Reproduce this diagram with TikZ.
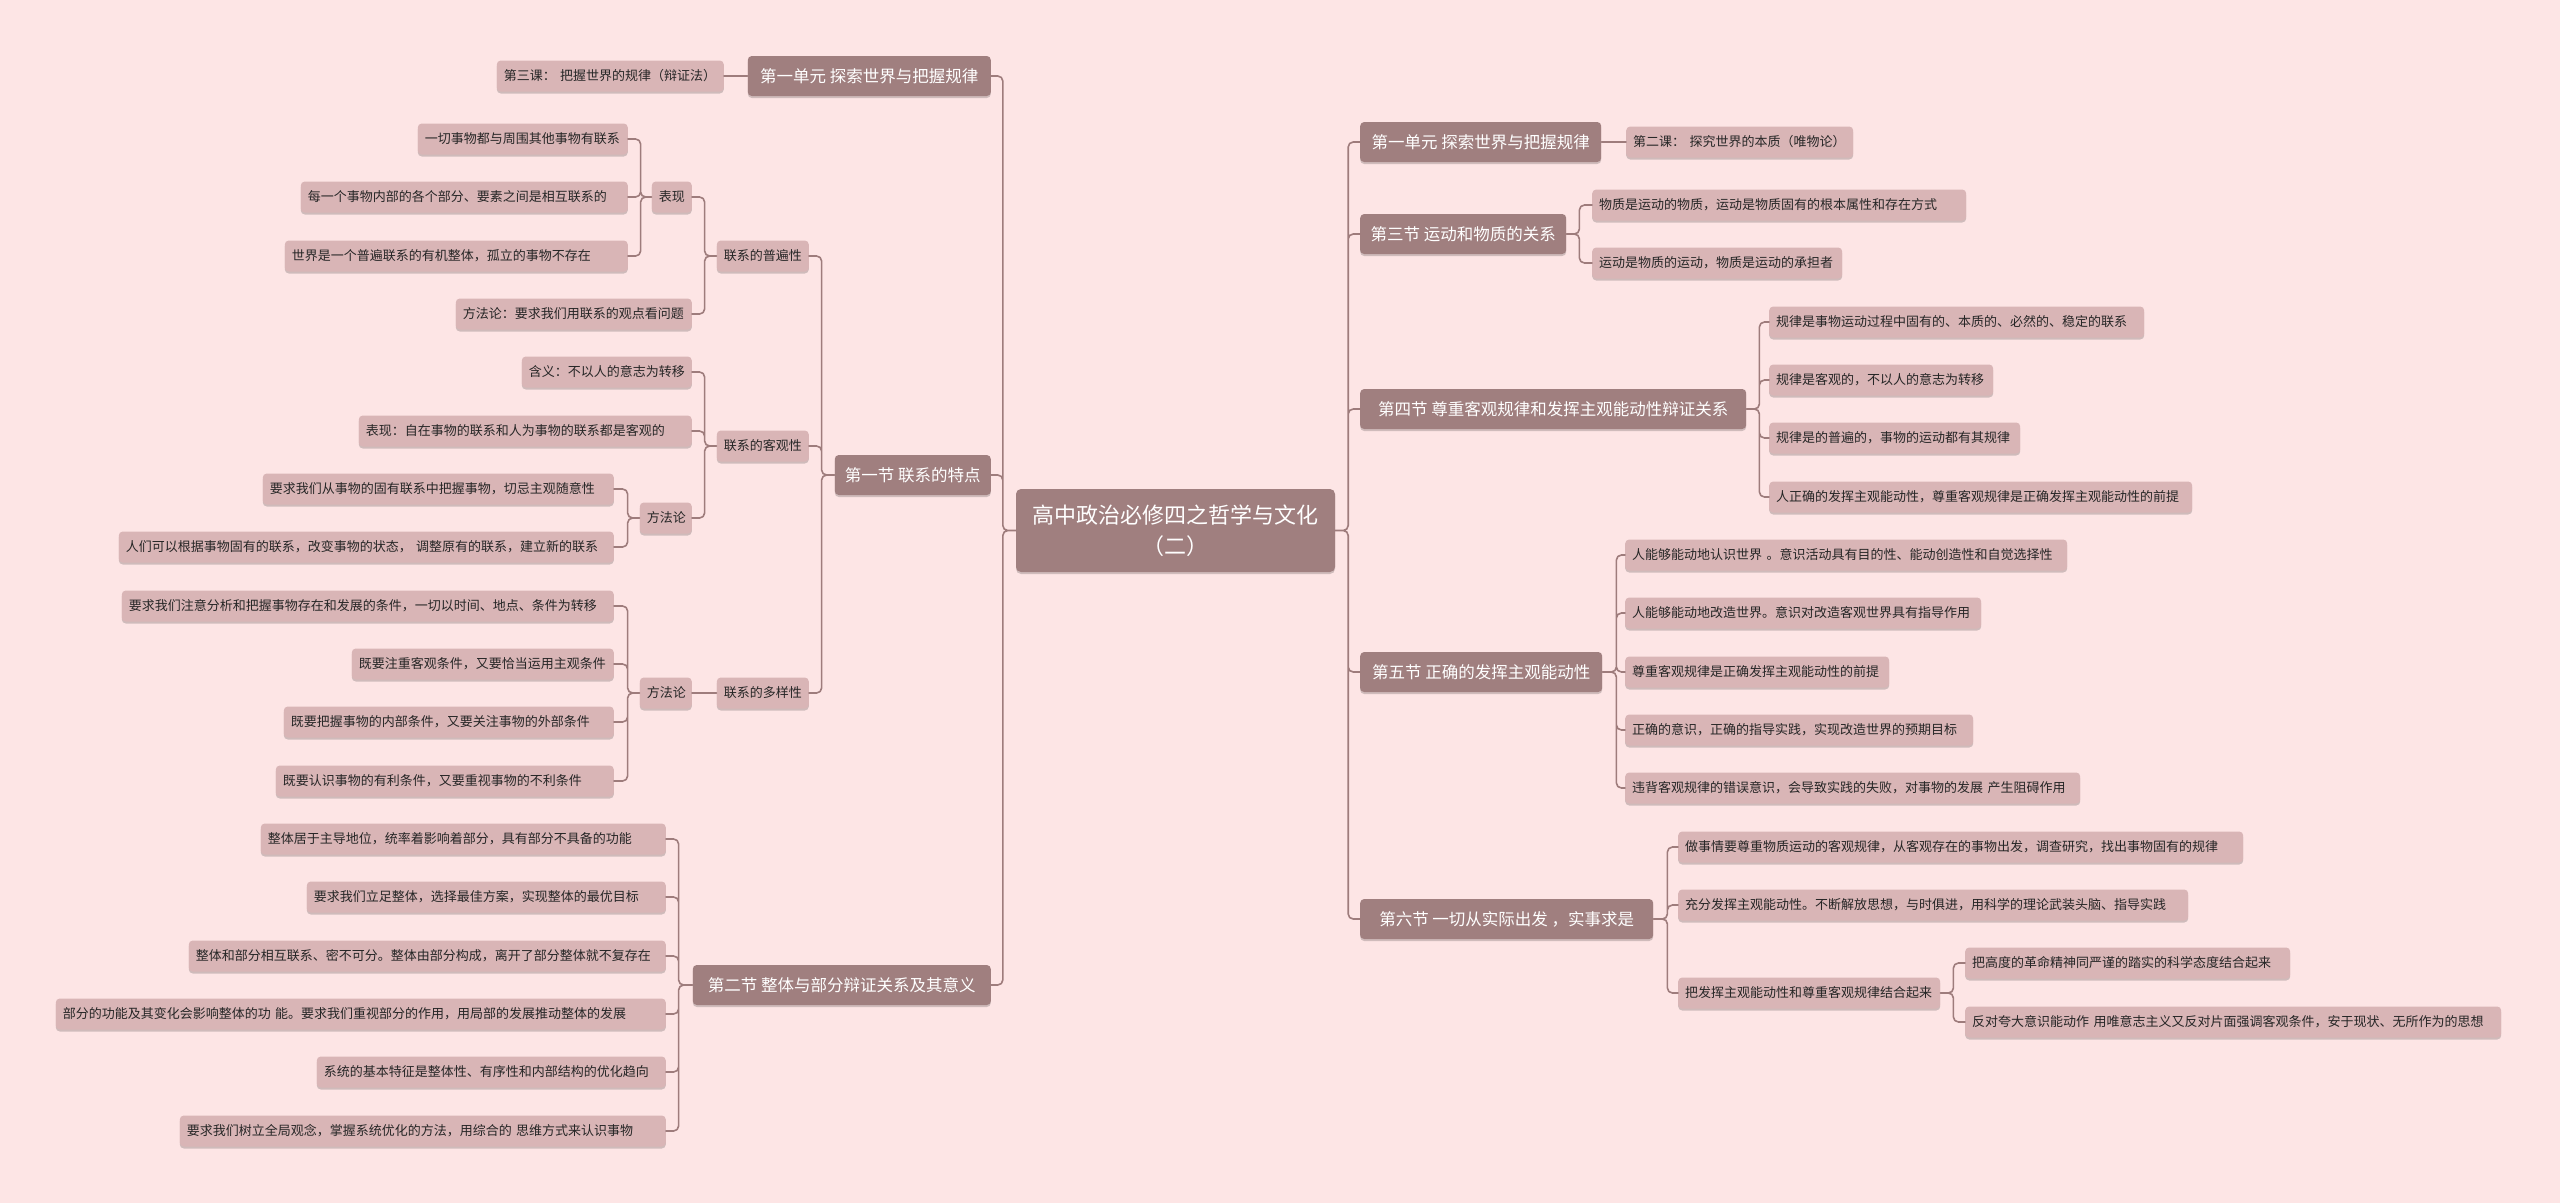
\documentclass[tikz,border=0pt]{standalone}
\usepackage{fontspec}
\setmainfont{Noto Sans CJK SC}
\usetikzlibrary{shadows}
\definecolor{bgc}{HTML}{FDE5E5}
\definecolor{darkc}{HTML}{A07F7F}
\definecolor{lightc}{HTML}{D9B5B6}
\definecolor{linec}{HTML}{9E7C7C}
\definecolor{txtc}{HTML}{262626}
\begin{document}
\begin{tikzpicture}[x=1pt, y=-1pt, line join=round, line cap=round,
	shade/.style={drop shadow={shadow xshift=0pt, shadow yshift=-2pt, opacity=.18, fill=black}},
	rootbox/.style={shade, fill=darkc, text=white, rounded corners=5pt, font=\fontsize{22}{31}\selectfont, align=center, inner sep=0pt, minimum width=319pt, minimum height=83pt},
	secbox/.style={shade, fill=darkc, text=white, rounded corners=4pt, font=\fontsize{16.5}{20}\selectfont, inner xsep=8pt, inner ysep=0pt, minimum height=40pt, minimum width=#1pt},
	leafbase/.style={shade, fill=lightc, text=txtc, rounded corners=4pt, font=\fontsize{13}{16}\selectfont, inner xsep=7pt, inner ysep=0pt, minimum height=31pt, align=left},
	leafbox/.code={\pgfmathsetlengthmacro\leafw{#1pt-14pt}\tikzset{leafbase, text width=\leafw}},
	conn/.style={draw=linec, line width=1.6pt, rounded corners=5pt}]
	\useasboundingbox (0,0) rectangle (2560,1203);
	\fill[bgc] (0,0) rectangle (2560,1203);
	\node[rootbox] (root) at (1175.5,530.5) {高中政治必修四之哲学与文化\\（二）};
	% left
	\node[secbox=243, anchor=east] (u1L) at (991,76) {第一单元 探索世界与把握规律};
	\node[secbox=156, anchor=east] (s1) at (991,475) {第一节 联系的特点};
	\node[secbox=298, anchor=east] (s2) at (991,985) {第二节 整体与部分辩证关系及其意义};
	\node[leafbox=227, anchor=east] (k3) at (724,76) {\mbox{第三课： 把握世界的规律（辩证法）}};
	\node[leafbox=92, anchor=east] (pu) at (809,256) {联系的普遍性};
	\node[leafbox=92, anchor=east] (kg) at (809,446) {联系的客观性};
	\node[leafbox=92, anchor=east] (dy) at (809,693) {联系的多样性};
	\node[leafbox=40, anchor=east] (bx) at (692,197) {表现};
	\node[leafbox=236, anchor=east] (pu2) at (692,314) {方法论：要求我们用联系的观点看问题};
	\node[leafbox=170, anchor=east] (kg1) at (692,372) {含义：不以人的意志为转移};
	\node[leafbox=333, anchor=east] (kg2) at (692,431) {表现：自在事物的联系和人为事物的联系都是客观的};
	\node[leafbox=52, anchor=east] (ff1) at (692,518) {方法论};
	\node[leafbox=52, anchor=east] (ff2) at (692,693) {方法论};
	\node[leafbox=210, anchor=east] (bx1) at (628,139) {一切事物都与周围其他事物有联系};
	\node[leafbox=327, anchor=east] (bx2) at (628,197) {每一个事物内部的各个部分、要素之间是相互联系的};
	\node[leafbox=343, anchor=east] (bx3) at (628,256) {世界是一个普遍联系的有机整体，孤立的事物不存在};
	\node[leafbox=351, anchor=east] (ffa1) at (614,489) {要求我们从事物的固有联系中把握事物，切忌主观随意性};
	\node[leafbox=495, anchor=east] (ffa2) at (614,547) {\mbox{人们可以根据事物固有的联系，改变事物的状态， 调整原有的联系，建立新的联系}};
	\node[leafbox=492, anchor=east] (ffb1) at (614,606) {要求我们注意分析和把握事物存在和发展的条件，一切以时间、地点、条件为转移};
	\node[leafbox=262, anchor=east] (ffb2) at (614,664) {既要注重客观条件，又要恰当运用主观条件};
	\node[leafbox=330, anchor=east] (ffb3) at (614,722) {既要把握事物的内部条件，又要关注事物的外部条件};
	\node[leafbox=338, anchor=east] (ffb4) at (614,781) {既要认识事物的有利条件，又要重视事物的不利条件};
	\node[leafbox=405, anchor=east] (zb1) at (666,839) {整体居于主导地位，统率着影响着部分，具有部分不具备的功能};
	\node[leafbox=359, anchor=east] (zb2) at (666,897) {要求我们立足整体，选择最佳方案，实现整体的最优目标};
	\node[leafbox=477, anchor=east] (zb3) at (666,956) {整体和部分相互联系、密不可分。整体由部分构成，离开了部分整体就不复存在};
	\node[leafbox=610, anchor=east] (zb4) at (666,1014) {\mbox{部分的功能及其变化会影响整体的功 能。要求我们重视部分的作用，用局部的发展推动整体的发展}};
	\node[leafbox=349, anchor=east] (zb5) at (666,1072) {系统的基本特征是整体性、有序性和内部结构的优化趋向};
	\node[leafbox=486, anchor=east] (zb6) at (666,1131) {\mbox{要求我们树立全局观念，掌握系统优化的方法，用综合的 思维方式来认识事物}};
	% right
	\node[secbox=241, anchor=west] (u1R) at (1360,142) {第一单元 探索世界与把握规律};
	\node[secbox=206, anchor=west] (s3) at (1360,234) {第三节 运动和物质的关系};
	\node[secbox=386, anchor=west] (s4) at (1360,409) {第四节 尊重客观规律和发挥主观能动性辩证关系};
	\node[secbox=242, anchor=west] (s5) at (1360,672) {第五节 正确的发挥主观能动性};
	\node[secbox=293, anchor=west] (s6) at (1360,919) {第六节 一切从实际出发 ，实事求是};
	\node[leafbox=227, anchor=west] (k2) at (1626,142) {\mbox{第二课： 探究世界的本质（唯物论）}};
	\node[leafbox=374, anchor=west] (s3a) at (1592,205) {物质是运动的物质，运动是物质固有的根本属性和存在方式};
	\node[leafbox=250, anchor=west] (s3b) at (1592,263) {运动是物质的运动，物质是运动的承担者};
	\node[leafbox=375, anchor=west] (s4a) at (1769,322) {规律是事物运动过程中固有的、本质的、必然的、稳定的联系};
	\node[leafbox=224, anchor=west] (s4b) at (1769,380) {规律是客观的，不以人的意志为转移};
	\node[leafbox=251, anchor=west] (s4c) at (1769,438) {规律是的普遍的，事物的运动都有其规律};
	\node[leafbox=423, anchor=west] (s4d) at (1769,497) {人正确的发挥主观能动性，尊重客观规律是正确发挥主观能动性的前提};
	\node[leafbox=442, anchor=west] (s5a) at (1625,555) {\mbox{人能够能动地认识世界 。意识活动具有目的性、能动创造性和自觉选择性}};
	\node[leafbox=356, anchor=west] (s5b) at (1625,613) {人能够能动地改造世界。意识对改造客观世界具有指导作用};
	\node[leafbox=264, anchor=west] (s5c) at (1625,672) {尊重客观规律是正确发挥主观能动性的前提};
	\node[leafbox=348, anchor=west] (s5d) at (1625,730) {正确的意识，正确的指导实践，实现改造世界的预期目标};
	\node[leafbox=455, anchor=west] (s5e) at (1625,788) {\mbox{违背客观规律的错误意识，会导致实践的失败，对事物的发展 产生阻碍作用}};
	\node[leafbox=565, anchor=west] (s6a) at (1678,847) {做事情要尊重物质运动的客观规律，从客观存在的事物出发，调查研究，找出事物固有的规律};
	\node[leafbox=510, anchor=west] (s6b) at (1678,905) {充分发挥主观能动性。不断解放思想，与时俱进，用科学的理论武装头脑、指导实践};
	\node[leafbox=262, anchor=west] (jh) at (1678,993) {把发挥主观能动性和尊重客观规律结合起来};
	\node[leafbox=325, anchor=west] (jh1) at (1965,963) {把高度的革命精神同严谨的踏实的科学态度结合起来};
	\node[leafbox=536, anchor=west] (jh2) at (1965,1022) {\mbox{反对夸大意识能动作 用唯意志主义又反对片面强调客观条件，安于现状、无所作为的思想}};
	\draw[conn] (root.west) -- ++(-13,0) |- (u1L.east)
		(root.west) -- ++(-13,0) |- (s1.east)
		(root.west) -- ++(-13,0) |- (s2.east)
		(u1L.west) -- (k3.east)
		(s1.west) -- ++(-13,0) |- (pu.east)
		(s1.west) -- ++(-13,0) |- (kg.east)
		(s1.west) -- ++(-13,0) |- (dy.east)
		(pu.west) -- ++(-12,0) |- (bx.east)
		(pu.west) -- ++(-12,0) |- (pu2.east)
		(kg.west) -- ++(-12,0) |- (kg1.east)
		(kg.west) -- ++(-12,0) |- (kg2.east)
		(kg.west) -- ++(-12,0) |- (ff1.east)
		(dy.west) -- (ff2.east)
		(bx.west) -- ++(-11,0) |- (bx1.east)
		(bx.west) -- ++(-11,0) |- (bx2.east)
		(bx.west) -- ++(-11,0) |- (bx3.east)
		(ff1.west) -- ++(-12,0) |- (ffa1.east)
		(ff1.west) -- ++(-12,0) |- (ffa2.east)
		(ff2.west) -- ++(-12,0) |- (ffb1.east)
		(ff2.west) -- ++(-12,0) |- (ffb2.east)
		(ff2.west) -- ++(-12,0) |- (ffb3.east)
		(ff2.west) -- ++(-12,0) |- (ffb4.east)
		(s2.west) -- ++(-14,0) |- (zb1.east)
		(s2.west) -- ++(-14,0) |- (zb2.east)
		(s2.west) -- ++(-14,0) |- (zb3.east)
		(s2.west) -- ++(-14,0) |- (zb4.east)
		(s2.west) -- ++(-14,0) |- (zb5.east)
		(s2.west) -- ++(-14,0) |- (zb6.east);
	\draw[conn] (root.east) -- ++(13,0) |- (u1R.west)
		(root.east) -- ++(13,0) |- (s3.west)
		(root.east) -- ++(13,0) |- (s4.west)
		(root.east) -- ++(13,0) |- (s5.west)
		(root.east) -- ++(13,0) |- (s6.west)
		(u1R.east) -- (k2.west)
		(s3.east) -- ++(13,0) |- (s3a.west)
		(s3.east) -- ++(13,0) |- (s3b.west)
		(s4.east) -- ++(13,0) |- (s4a.west)
		(s4.east) -- ++(13,0) |- (s4b.west)
		(s4.east) -- ++(13,0) |- (s4c.west)
		(s4.east) -- ++(13,0) |- (s4d.west)
		(s5.east) -- ++(14,0) |- (s5a.west)
		(s5.east) -- ++(14,0) |- (s5b.west)
		(s5.east) -- ++(14,0) |- (s5c.west)
		(s5.east) -- ++(14,0) |- (s5d.west)
		(s5.east) -- ++(14,0) |- (s5e.west)
		(s6.east) -- ++(14,0) |- (s6a.west)
		(s6.east) -- ++(14,0) |- (s6b.west)
		(s6.east) -- ++(14,0) |- (jh.west)
		(jh.east) -- ++(13,0) |- (jh1.west)
		(jh.east) -- ++(13,0) |- (jh2.west);
\end{tikzpicture}
\end{document}
